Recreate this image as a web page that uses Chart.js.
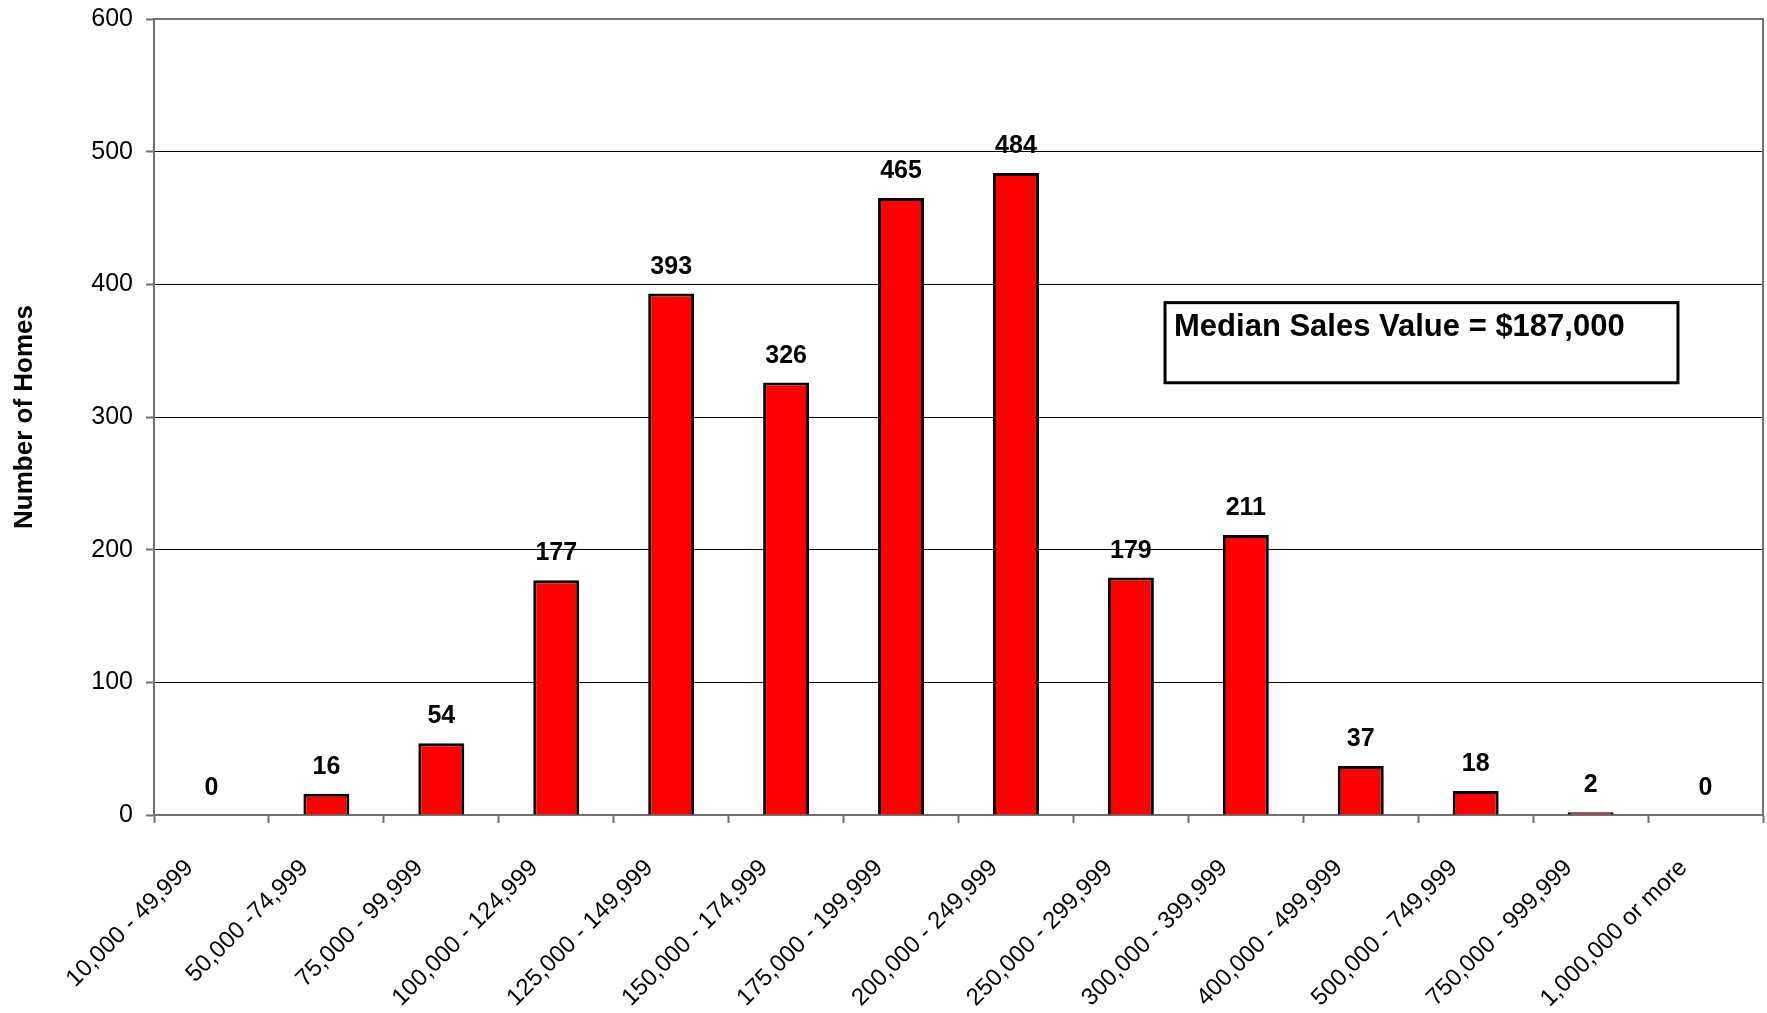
<!DOCTYPE html>
<html>
<head>
<meta charset="utf-8">
<script src="https://cdn.jsdelivr.net/npm/chart.js@4/dist/chart.umd.min.js"></script>
<style>
  html, body { margin: 0; padding: 0; background: #ffffff; }
  #wrap { position: relative; width: 1767px; height: 1013px; }
</style>
</head>
<body>
<div id="wrap"><canvas id="c"></canvas></div>
<script>
// ---- Data ----
const categories = [
  "10,000 - 49,999", "50,000 -74,999", "75,000 - 99,999", "100,000 - 124,999",
  "125,000 - 149,999", "150,000 - 174,999", "175,000 - 199,999", "200,000 - 249,999",
  "250,000 - 299,999", "300,000 - 399,999", "400,000 - 499,999", "500,000 - 749,999",
  "750,000 - 999,999", "1,000,000 or more"
];
const homes = [0, 16, 54, 177, 393, 326, 465, 484, 179, 211, 37, 18, 2, 0];
const yTickValues = [0, 100, 200, 300, 400, 500, 600];
const yAxisTitle = "Number of Homes";
const medianNote = "Median Sales Value = $187,000";

// ---- Styling / placement (not data) ----
const FONT = "'Liberation Sans', Arial, Helvetica, sans-serif";
const AXIS_GRAY = "#707070";
// note box placement in scale units (category index, value)
const noteBox = { x0: 8.297, x1: 12.76, yTop: 386.2, yBottom: 325.8 };

const valueLabels = {
  id: "valueLabels",
  afterDatasetsDraw(chart) {
    const ctx = chart.ctx;
    const meta = chart.getDatasetMeta(0);
    ctx.save();
    ctx.font = "bold 25px " + FONT;
    ctx.fillStyle = "#000";
    ctx.textAlign = "center";
    ctx.textBaseline = "alphabetic";
    meta.data.forEach((bar, i) => {
      ctx.fillText(String(chart.data.datasets[0].data[i]), bar.x, bar.y - 20);
    });
    ctx.restore();
  }
};

const plotFrame = {
  id: "plotFrame",
  afterDatasetsDraw(chart) {
    const { ctx, chartArea: a } = chart;
    ctx.save();
    ctx.strokeStyle = AXIS_GRAY;
    ctx.lineWidth = 2;
    ctx.beginPath();
    ctx.moveTo(a.left, a.top);
    ctx.lineTo(a.right, a.top);
    ctx.lineTo(a.right, a.bottom);
    ctx.stroke();
    ctx.restore();
  }
};

const noteBoxPlugin = {
  id: "noteBox",
  afterDraw(chart) {
    const { ctx } = chart;
    const xs = chart.scales.x, ys = chart.scales.y;
    const l = xs.getPixelForValue(noteBox.x0);
    const r = xs.getPixelForValue(noteBox.x1);
    const t = ys.getPixelForValue(noteBox.yTop);
    const b = ys.getPixelForValue(noteBox.yBottom);
    ctx.save();
    ctx.fillStyle = "#fff";
    ctx.fillRect(l, t, r - l, b - t);
    ctx.strokeStyle = "#000";
    ctx.lineWidth = 3;
    ctx.strokeRect(l, t, r - l, b - t);
    ctx.font = "bold 31px " + FONT;
    ctx.fillStyle = "#000";
    ctx.textAlign = "left";
    ctx.textBaseline = "alphabetic";
    ctx.fillText(medianNote, l + 9, t + 33);
    ctx.restore();
  }
};

new Chart(document.getElementById("c"), {
  type: "bar",
  data: {
    labels: categories,
    datasets: [{
      data: homes,
      backgroundColor: "#ff0000",
      borderColor: "#000000",
      borderWidth: 3,
      barPercentage: 0.4,
      categoryPercentage: 1.0
    }]
  },
  options: {
    responsive: true,
    maintainAspectRatio: false,
    animation: false,
    devicePixelRatio: 1,
    layout: { padding: { top: 19, right: 4, bottom: 0, left: 0 } },
    plugins: {
      legend: { display: false },
      tooltip: { enabled: false },
      title: { display: false }
    },
    scales: {
      x: {
        offset: true,
        grid: {
          offset: true,
          drawOnChartArea: false,
          drawTicks: true,
          tickLength: 8,
          tickColor: AXIS_GRAY,
          tickWidth: 2
        },
        border: { display: true, color: AXIS_GRAY, width: 2 },
        ticks: {
          autoSkip: false,
          minRotation: 45,
          maxRotation: 45,
          padding: 31,
          labelOffset: -22,
          color: "#000",
          font: { family: FONT, size: 24 }
        },
        afterFit(scale) { scale.height = 198; scale.paddingLeft = 0; scale.paddingRight = 0; }
      },
      y: {
        min: 0,
        max: 600,
        afterBuildTicks(scale) { scale.ticks = yTickValues.map(v => ({ value: v })); },
        grid: {
          color: "#000000",
          lineWidth: 1,
          drawTicks: true,
          tickLength: 8,
          tickColor: AXIS_GRAY,
          tickWidth: 2
        },
        border: { display: true, color: AXIS_GRAY, width: 2 },
        ticks: {
          padding: 13,
          color: "#000",
          font: { family: FONT, size: 25 }
        },
        title: {
          display: true,
          text: yAxisTitle,
          color: "#000",
          font: { family: FONT, size: 26, weight: "bold" },
          padding: { top: 9, bottom: 0 }
        },
        afterFit(scale) { scale.width = 154; scale.paddingTop = 0; scale.paddingBottom = 0; }
      }
    }
  },
  plugins: [valueLabels, plotFrame, noteBoxPlugin]
});
</script>
</body>
</html>
